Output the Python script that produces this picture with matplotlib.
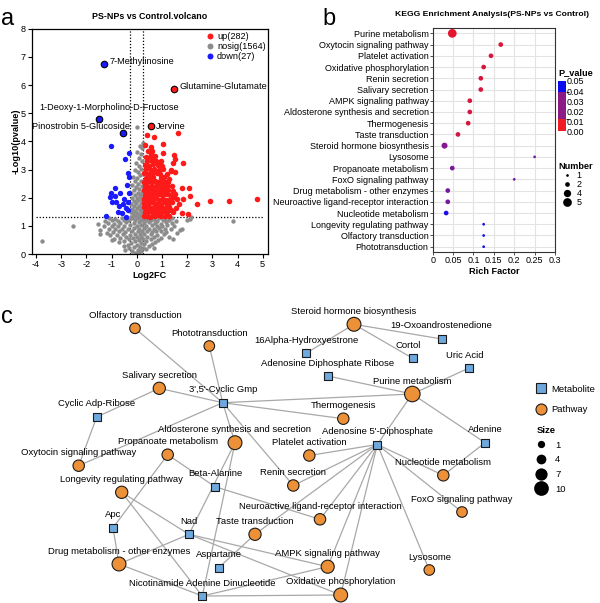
"""Three-panel metabolomics figure: volcano plot, KEGG enrichment bubbles, and
the metabolite-pathway network.

Writes out.png (600x603 px).
"""

import matplotlib.pyplot as plt
import numpy as np
from matplotlib.cm import ScalarMappable
from matplotlib.colors import BoundaryNorm, LinearSegmentedColormap, ListedColormap
from matplotlib.lines import Line2D

plt.rcParams["font.family"] = ["Liberation Sans", "DejaVu Sans"]
plt.rcParams["axes.unicode_minus"] = False

W, H = 600, 603

# ---------------------------------------------------------------- panel a data
# (log2FC, -log10 p); the grey cloud is only a sample.
NOSIG = [
    (-0.08, 0.03), (0.02, 0.02), (0.1, 0.06), (0.18, 0.1), (-0.2, 0.12), (0.05, 0.14),
    (-0.3, 0.2), (0.25, 0.2), (0.38, 0.18), (-0.12, 0.24), (0.12, 0.26),
    (-0.5, 0.3), (-0.35, 0.32), (0.0, 0.33), (0.3, 0.34), (0.48, 0.3), (0.6, 0.36),
    (-0.22, 0.38), (0.18, 0.4), (-0.7, 0.42), (-0.52, 0.45), (-0.08, 0.46), (0.08, 0.48),
    (0.36, 0.47), (0.72, 0.44), (0.86, 0.5), (-0.3, 0.52), (0.25, 0.54), (0.55, 0.52),
    (-0.9, 0.55), (-0.65, 0.58), (-0.42, 0.6), (-0.15, 0.58), (0.02, 0.62), (0.15, 0.6),
    (0.42, 0.62), (0.68, 0.6), (0.98, 0.58), (-1.05, 0.66), (-0.8, 0.68), (-0.55, 0.7),
    (-0.25, 0.68), (-0.05, 0.72), (0.12, 0.7), (0.3, 0.72), (0.55, 0.7), (0.82, 0.68),
    (1.08, 0.7), (1.3, 0.62), (-1.2, 0.76), (-0.95, 0.78), (-0.7, 0.8), (-0.45, 0.78),
    (-0.18, 0.8), (0.05, 0.82), (0.22, 0.8), (0.4, 0.82), (0.62, 0.78), (0.78, 0.8),
    (0.95, 0.82), (1.18, 0.78), (-1.45, 0.86), (-1.1, 0.88), (-0.85, 0.9), (-0.6, 0.88),
    (-0.35, 0.9), (-0.1, 0.92), (0.1, 0.9), (0.3, 0.92), (0.5, 0.88), (0.7, 0.9),
    (0.9, 0.92), (1.12, 0.88), (1.35, 0.9), (1.72, 0.86), (-1.3, 0.98), (-1.0, 1.0),
    (-0.75, 0.98), (-0.5, 1.0), (-0.25, 1.02), (0.0, 1.0), (0.18, 1.02), (0.38, 1.0),
    (0.6, 1.02), (0.8, 0.98), (1.02, 1.0), (1.22, 1.02), (1.46, 0.98), (-1.52, 1.08),
    (-1.15, 1.1), (-0.9, 1.08), (-0.65, 1.1), (-0.42, 1.12), (-0.12, 1.1), (0.08, 1.12),
    (0.28, 1.1), (0.5, 1.12), (0.72, 1.1), (0.95, 1.08), (1.15, 1.12), (1.38, 1.1),
    (-1.25, 1.18), (-0.98, 1.2), (-0.75, 1.18), (-0.52, 1.2), (-0.3, 1.22), (-0.05, 1.2),
    (0.15, 1.22), (0.35, 1.2), (0.58, 1.22), (0.8, 1.18), (1.05, 1.2), (1.28, 1.22),
    (1.55, 1.18), (2.0, 1.2), (-1.1, 1.27), (-0.85, 1.26), (-0.6, 1.28), (-0.38, 1.26),
    (-0.18, 1.28), (0.05, 1.27), (0.25, 1.26), (0.45, 1.28), (0.68, 1.26), (0.9, 1.28),
    (1.12, 1.26), (1.4, 1.27), (2.1, 1.26),
    (-3.77, 0.47), (-2.52, 1.0), (-1.45, 0.7), (-1.0, 0.48), (1.45, 0.55), (1.6, 0.75),
    (1.8, 0.87), (3.84, 1.16), (2.15, 1.3), (-0.45, 0.15), (0.7, 0.2),
    (-0.22, 1.32), (-0.08, 1.35), (0.1, 1.34), (0.22, 1.36), (-0.15, 1.42), (0.02, 1.44),
    (0.18, 1.45), (-0.24, 1.5), (-0.05, 1.52), (0.12, 1.55), (0.24, 1.54), (-0.18, 1.6),
    (0.0, 1.62), (0.2, 1.64), (-0.1, 1.7), (0.08, 1.72), (0.24, 1.7), (-0.22, 1.78),
    (-0.02, 1.8), (0.16, 1.82), (-0.12, 1.88), (0.06, 1.9), (0.22, 1.92), (-0.2, 1.98),
    (0.0, 2.0), (0.18, 2.02), (-0.08, 2.08), (0.12, 2.1), (-0.22, 2.15), (0.04, 2.18),
    (0.22, 2.2), (-0.12, 2.26), (0.1, 2.3), (-0.02, 2.38), (0.2, 2.4), (-0.18, 2.45),
    (0.06, 2.5), (-0.08, 2.58), (0.16, 2.6), (0.0, 2.7), (-0.15, 2.75), (0.12, 2.8),
    (0.04, 2.9), (-0.06, 3.0), (0.18, 3.02), (0.08, 3.12), (-0.02, 3.22), (0.2, 3.3),
    (0.1, 3.42), (0.16, 3.55), (0.02, 3.62), (0.22, 3.75), (0.12, 3.85), (0.26, 3.95),
    (0.0, 4.5),
]
UP = [
    (0.41, 4.24), (0.69, 4.16), (1.63, 4.28), (0.33, 3.88), (1.03, 3.92), (0.57, 3.79),
    (0.56, 3.57), (1.06, 3.59), (1.46, 3.51), (1.51, 3.36), (1.42, 3.22), (0.69, 3.37),
    (0.45, 3.13), (1.83, 3.22), (1.34, 2.93), (1.52, 2.9), (2.08, 2.33), (1.79, 2.35),
    (1.49, 2.03), (1.83, 1.94), (2.12, 2.06), (2.38, 1.77), (2.9, 1.88), (3.66, 1.89),
    (4.76, 1.96), (1.44, 1.48), (1.79, 1.44), (2.02, 1.43), (1.22, 1.77), (0.9, 1.91),
    (0.66, 2.27), (1.12, 2.57), (0.79, 2.86), (0.4, 2.57), (0.93, 3.22),
    (0.3, 1.34), (0.42, 1.36), (0.52, 1.33), (0.63, 1.37), (0.74, 1.35), (0.85, 1.38),
    (0.98, 1.34), (1.12, 1.36), (1.27, 1.35), (0.33, 1.5), (0.46, 1.48), (0.57, 1.52),
    (0.69, 1.49), (0.82, 1.53), (0.92, 1.47), (1.06, 1.51), (1.2, 1.49), (1.34, 1.55),
    (0.28, 1.66), (0.39, 1.63), (0.5, 1.67), (0.62, 1.64), (0.75, 1.68), (0.88, 1.63),
    (1.01, 1.67), (1.15, 1.64), (1.3, 1.66), (1.56, 1.62), (0.3, 1.81), (0.43, 1.79),
    (0.55, 1.83), (0.7, 1.8), (0.84, 1.82), (0.98, 1.78), (1.12, 1.84), (1.29, 1.8),
    (1.41, 1.83), (1.66, 1.78), (0.28, 1.96), (0.4, 1.94), (0.52, 1.98), (0.65, 1.95),
    (0.78, 1.99), (1.05, 1.96), (1.2, 1.93), (1.36, 1.97), (1.6, 1.95), (0.31, 2.11),
    (0.46, 2.09), (0.6, 2.13), (0.73, 2.1), (0.88, 2.12), (1.0, 2.08), (1.18, 2.13),
    (1.31, 2.1), (1.52, 2.12), (0.28, 2.26), (0.41, 2.24), (0.55, 2.28), (0.8, 2.25),
    (0.95, 2.27), (1.1, 2.23), (1.25, 2.27), (1.45, 2.25), (0.32, 2.41), (0.46, 2.39),
    (0.6, 2.43), (0.75, 2.4), (0.9, 2.42), (1.05, 2.38), (1.2, 2.42), (1.38, 2.4),
    (0.3, 2.56), (0.56, 2.55), (0.72, 2.58), (0.86, 2.54), (1.0, 2.57), (1.25, 2.55),
    (0.35, 2.71), (0.5, 2.69), (0.65, 2.73), (0.95, 2.7), (1.1, 2.72), (1.3, 2.68),
    (0.3, 2.86), (0.46, 2.84), (0.6, 2.88), (0.93, 2.85), (1.2, 2.83), (0.38, 3.01),
    (0.55, 2.99), (0.7, 3.03), (0.88, 3.0), (1.06, 3.02), (1.36, 3.0), (0.32, 3.16),
    (0.5, 3.14), (0.65, 3.18), (0.83, 3.15), (1.0, 3.13), (0.4, 3.31), (0.6, 3.29),
    (0.77, 3.32), (0.97, 3.3), (0.36, 3.46), (0.52, 3.45), (0.71, 3.48), (0.45, 3.66),
    (0.62, 3.64),
]
DOWN = [
    (-1.02, 3.83), (-0.29, 3.58), (-0.46, 3.36), (-0.33, 2.86), (-0.29, 2.74),
    (-0.40, 2.45), (-0.86, 2.35), (-1.03, 2.17), (-1.08, 2.03), (-0.87, 2.06),
    (-0.66, 2.17), (-0.29, 2.15), (-0.50, 1.97), (-0.33, 1.83), (-0.99, 1.86),
    (-0.82, 1.86), (-0.69, 1.70), (-0.53, 1.77), (-0.73, 1.48), (-0.60, 1.44),
    (-0.33, 1.56), (-0.44, 1.62), (-1.22, 1.35), (-0.42, 1.32),
]
# labelled metabolites: name, log2FC, -log10 p, regulation, text x, text y, align
LABELLED = [
    ("7-Methylinosine", -1.30, 6.74, "down", -1.09, 6.82, "left"),
    ("Glutamine-Glutamate", 1.46, 5.86, "up", 1.71, 5.96, "left"),
    ("1-Deoxy-1-Morpholino-D-Fructose", -1.50, 4.80, "down", -1.11, 5.19, "center"),
    ("Pinostrobin 5-Glucoside", -0.55, 4.30, "down", -0.27, 4.51, "right"),
    ("Jervine", 0.55, 4.53, "up", 0.75, 4.53, "left"),
]
COUNTS = {"up": 282, "nosig": 1564, "down": 27}
FC_CUT = 0.26
P_CUT = 1.3

# ---------------------------------------------------------------- panel b data
KEGG_TERMS = [
    "Purine metabolism", "Oxytocin signaling pathway", "Platelet activation",
    "Oxidative phosphorylation", "Renin secretion", "Salivary secretion",
    "AMPK signaling pathway", "Aldosterone synthesis and secretion", "Thermogenesis",
    "Taste transduction", "Steroid hormone biosynthesis", "Lysosome",
    "Propanoate metabolism", "FoxO signaling pathway", "Drug metabolism - other enzymes",
    "Neuroactive ligand-receptor interaction", "Nucleotide metabolism",
    "Longevity regulating pathway", "Olfactory transduction", "Phototransduction",
]
RICH_FACTOR = [0.048, 0.167, 0.143, 0.125, 0.118, 0.118, 0.091, 0.091, 0.087, 0.062,
               0.029, 0.25, 0.048, 0.2, 0.037, 0.037, 0.033, 0.125, 0.125, 0.125]
HIT_NUMBER = [5, 2, 2, 2, 2, 2, 2, 2, 2, 2, 3, 1, 2, 1, 2, 2, 2, 1, 1, 1]
P_VALUE = [0.004, 0.006, 0.007, 0.007, 0.007, 0.007, 0.008, 0.008, 0.008, 0.009,
           0.026, 0.03, 0.028, 0.03, 0.029, 0.029, 0.046, 0.048, 0.048, 0.048]

# ---------------------------------------------------------------- panel c data
# layout coordinates (x right, y down) of the network drawing
PATHWAYS = [
    "Olfactory transduction", "Phototransduction", "Salivary secretion",
    "Aldosterone synthesis and secretion", "Propanoate metabolism",
    "Oxytocin signaling pathway", "Longevity regulating pathway", "Renin secretion",
    "Taste transduction", "Drug metabolism - other enzymes",
    "Steroid hormone biosynthesis", "Purine metabolism", "Thermogenesis",
    "Platelet activation", "Nucleotide metabolism", "FoxO signaling pathway",
    "Neuroactive ligand-receptor interaction", "AMPK signaling pathway", "Lysosome",
    "Oxidative phosphorylation",
]
PATH_X = [135, 209.3, 159.3, 235, 167.7, 78.7, 121.7, 293.3, 255, 119,
          354, 412.3, 343.3, 309.3, 443.3, 462, 320, 327.7, 429.3, 340.7]
PATH_Y = [328.3, 346, 388.3, 442.7, 454.7, 465.7, 492.3, 485.5, 534.3, 564,
          324.3, 394, 418.7, 455.5, 475.3, 512, 519.3, 566.7, 570, 595]
PATH_SIZE = [5, 5, 7, 9, 6, 6, 7, 6, 7, 9, 9, 11, 6, 6, 6, 5, 6, 8, 5, 9]

METABOLITES = [
    "3',5'-Cyclic Gmp", "Cyclic Adp-Ribose", "Beta-Alanine", "Apc", "Nad", "Aspartame",
    "Nicotinamide Adenine Dinucleotide", "16Alpha-Hydroxyestrone",
    "Adenosine Diphosphate Ribose", "19-Oxoandrostenedione", "Cortol", "Uric Acid",
    "Adenosine 5'-Diphosphate", "Adenine",
]
MET_X = [222.7, 96.7, 215, 113, 189, 218.7, 202.3, 306, 327.7, 441.7, 412.7, 469,
         377.3, 485]
MET_Y = [402.7, 417, 486.7, 527.7, 534.3, 567.7, 596, 353.3, 376, 339, 358.3, 368,
         444.5, 442.7]

EDGES = [
    ("3',5'-Cyclic Gmp", "Olfactory transduction"),
    ("3',5'-Cyclic Gmp", "Phototransduction"),
    ("3',5'-Cyclic Gmp", "Salivary secretion"),
    ("3',5'-Cyclic Gmp", "Oxytocin signaling pathway"),
    ("3',5'-Cyclic Gmp", "Purine metabolism"),
    ("3',5'-Cyclic Gmp", "Thermogenesis"),
    ("3',5'-Cyclic Gmp", "Aldosterone synthesis and secretion"),
    ("3',5'-Cyclic Gmp", "Renin secretion"),
    ("Cyclic Adp-Ribose", "Salivary secretion"),
    ("Cyclic Adp-Ribose", "Oxytocin signaling pathway"),
    ("Apc", "Propanoate metabolism"),
    ("Apc", "Drug metabolism - other enzymes"),
    ("Beta-Alanine", "Propanoate metabolism"),
    ("Beta-Alanine", "Neuroactive ligand-receptor interaction"),
    ("Nad", "Aldosterone synthesis and secretion"),
    ("Nad", "Longevity regulating pathway"),
    ("Nad", "Drug metabolism - other enzymes"),
    ("Nad", "AMPK signaling pathway"),
    ("Nad", "Oxidative phosphorylation"),
    ("Nicotinamide Adenine Dinucleotide", "Aldosterone synthesis and secretion"),
    ("Nicotinamide Adenine Dinucleotide", "Longevity regulating pathway"),
    ("Nicotinamide Adenine Dinucleotide", "Drug metabolism - other enzymes"),
    ("Nicotinamide Adenine Dinucleotide", "AMPK signaling pathway"),
    ("Nicotinamide Adenine Dinucleotide", "Oxidative phosphorylation"),
    ("Aspartame", "Taste transduction"),
    ("Adenosine 5'-Diphosphate", "Taste transduction"),
    ("Adenosine 5'-Diphosphate", "Platelet activation"),
    ("Adenosine 5'-Diphosphate", "Renin secretion"),
    ("Adenosine 5'-Diphosphate", "Neuroactive ligand-receptor interaction"),
    ("Adenosine 5'-Diphosphate", "AMPK signaling pathway"),
    ("Adenosine 5'-Diphosphate", "Oxidative phosphorylation"),
    ("Adenosine 5'-Diphosphate", "Lysosome"),
    ("Adenosine 5'-Diphosphate", "FoxO signaling pathway"),
    ("Adenosine 5'-Diphosphate", "Nucleotide metabolism"),
    ("Adenosine 5'-Diphosphate", "Purine metabolism"),
    ("Adenosine Diphosphate Ribose", "Purine metabolism"),
    ("Uric Acid", "Purine metabolism"),
    ("Adenine", "Purine metabolism"),
    ("Adenine", "Nucleotide metabolism"),
    ("16Alpha-Hydroxyestrone", "Steroid hormone biosynthesis"),
    ("19-Oxoandrostenedione", "Steroid hormone biosynthesis"),
    ("Cortol", "Steroid hormone biosynthesis"),
]
SIZE_BREAKS = [1, 4, 7, 10]

# ---------------------------------------------------------------- styles
RED, GREY, BLUE = "#ff1a1a", "#8c8c8c", "#1a1aff"
ORANGE, LIGHTBLUE = "#ec9137", "#6fa8dc"
FS_B = 6.5   # enrichment plot text
FS_C = 6.8   # network text
PT = 0.72    # points per pixel at 100 dpi


def px_box(x0, y0, x1, y1):
    """Figure-fraction rectangle from pixel corners (y measured downward)."""
    return [x0 / W, 1 - y1 / H, (x1 - x0) / W, (y1 - y0) / H]


def net_diam(v):
    """Pathway node diameter in pixels from its size value."""
    return 7.3 + (v - 1) * (14.7 - 7.3) / 9


fig = plt.figure(figsize=(W / 100, H / 100), dpi=100)

# ================================================================ panel a
ax = fig.add_axes(px_box(31.7, 28.7, 268, 254))
gx, gy = zip(*NOSIG)
ax.scatter(gx, gy, s=10, c=GREY, lw=0, zorder=2)
ux, uy = zip(*UP)
ax.scatter(ux, uy, s=16, c=RED, lw=0, zorder=3)
dx, dy = zip(*DOWN)
ax.scatter(dx, dy, s=15, c=BLUE, lw=0, zorder=3)
for name, x, y, reg, tx, ty, ha in LABELLED:
    ax.scatter([x], [y], s=22, c=RED if reg == "up" else BLUE, edgecolors="black",
               linewidths=0.8, zorder=4)
    ax.text(tx, ty, name, ha=ha, va="center", fontsize=6.6, zorder=5)

ax.axvline(-FC_CUT, color="black", lw=0.9, ls=(0, (1, 1.5)), zorder=1)
ax.axvline(FC_CUT, color="black", lw=0.9, ls=(0, (1, 1.5)), zorder=1)
ax.hlines(P_CUT, -4.0, 5.0, color="black", lw=0.9, ls=(0, (1, 1.5)), zorder=1)

ax.set_xlim(-4.17, 5.21)
ax.set_ylim(0, 8)
ax.set_xticks(range(-4, 6))
ax.set_yticks(range(0, 9))
ax.tick_params(labelsize=6.6, length=3, width=0.8, pad=1.5)
for sp in ax.spines.values():
    sp.set_linewidth(0.9)
ax.set_xlabel("Log2FC", fontsize=6.6, fontweight="bold", labelpad=1)
ax.set_ylabel("-Log10(pvalue)", fontsize=6.6, fontweight="bold", labelpad=0)
ax.set_title("PS-NPs vs Control.volcano", fontsize=6.4, fontweight="bold", pad=7)

handles = [Line2D([], [], ls="", marker="o", ms=4.3, mec="none", mfc=c)
           for c in (RED, GREY, BLUE)]
labels = [f"{k}({v})" for k, v in COUNTS.items()]
ax.legend(handles, labels, loc="upper left", bbox_to_anchor=(205 / W, 1 - 32 / H),
          bbox_transform=fig.transFigure, frameon=False, fontsize=6.6,
          handlelength=1, handletextpad=0.3, borderpad=0, labelspacing=0.1,
          borderaxespad=0)

# ================================================================ panel b
bx = fig.add_axes(px_box(432.7, 28.3, 555, 252))
pcmap = LinearSegmentedColormap.from_list("pv", ["#f5141e", "#8b1a8b", "#0a0af5"])
rows = np.arange(len(KEGG_TERMS))
diam = np.interp(HIT_NUMBER, [1, 2, 4, 5], [2.7, 4.7, 7.3, 8.7])
bx.scatter(RICH_FACTOR, rows, s=(diam * PT) ** 2,
           c=pcmap(np.array(P_VALUE) / 0.05), lw=0, zorder=3)
bx.set_xlim(0, 0.3)
bx.set_ylim(len(KEGG_TERMS) - 0.53, -0.45)
bx.set_xticks([0, 0.05, 0.1, 0.15, 0.2, 0.25, 0.3])
bx.set_xticklabels(["0", "0.05", "0.1", "0.15", "0.2", "0.25", "0.3"])
bx.set_yticks(rows)
bx.set_yticklabels(KEGG_TERMS)
bx.grid(True, color="#e3e3e3", lw=0.8, zorder=0)
bx.set_axisbelow(True)
bx.tick_params(labelsize=FS_B, length=2, width=0.6, color="#333333", pad=1)
for sp in bx.spines.values():
    sp.set_color("#333333")
    sp.set_linewidth(0.8)
bx.set_xlabel("Rich Factor", fontsize=6.6, fontweight="bold", labelpad=1)
fig.text(492 / W, 1 - 15 / H, "KEGG Enrichment Analysis(PS-NPs vs Control)",
         ha="center", va="center", fontsize=6.1, fontweight="bold")

# P_value colour bar
cax = fig.add_axes(px_box(558.3, 81, 565.7, 131.5))
bands = ListedColormap(["#f01c24", "#8e1a86", "#0b0bf0"])
bnorm = BoundaryNorm([0, 0.012, 0.039, 0.05], bands.N)
cb = fig.colorbar(ScalarMappable(norm=bnorm, cmap=bands), cax=cax,
                  spacing="proportional", ticks=[0, 0.01, 0.02, 0.03, 0.04, 0.05])
cb.ax.set_yticklabels([f"{t:.2f}" for t in [0, 0.01, 0.02, 0.03, 0.04, 0.05]])
cb.outline.set_visible(False)
cb.ax.tick_params(labelsize=FS_B, length=0, pad=1)
fig.text(558 / W, 1 - 72.7 / H, "P_value", fontsize=6.6, fontweight="bold",
         va="center")

nums = [1, 2, 4, 5]
nh = [Line2D([], [], ls="", marker="o", mfc="black", mec="none",
             ms=np.interp(n, [1, 2, 4, 5], [2.7, 4.7, 7.3, 8.7]) * PT) for n in nums]
fig.legend(nh, [str(n) for n in nums], title="Number", loc="upper left",
           bbox_to_anchor=(558 / W, 1 - 162 / H), frameon=False, fontsize=FS_B,
           title_fontproperties={"weight": "bold", "size": 6.6},
           handlelength=2, handletextpad=0.05, borderpad=0, labelspacing=0.0,
           alignment="left", borderaxespad=0)

# ================================================================ panel c
cx = fig.add_axes(px_box(0, 290, W, H))
cx.set_xlim(0, W)
cx.set_ylim(H, 290)
cx.axis("off")

pos = {n: (x, y) for n, x, y in zip(PATHWAYS, PATH_X, PATH_Y)}
pos.update({n: (x, y) for n, x, y in zip(METABOLITES, MET_X, MET_Y)})
for a, b in EDGES:
    (x0, y0), (x1, y1) = pos[a], pos[b]
    cx.plot([x0, x1], [y0, y1], color="#a8a8a8", lw=0.9, zorder=1)

cx.scatter(PATH_X, PATH_Y, s=[(net_diam(v) * PT) ** 2 for v in PATH_SIZE],
           c=ORANGE, edgecolors="#1a1a1a", linewidths=0.8, zorder=3)
cx.scatter(MET_X, MET_Y, s=(8.3 * PT) ** 2, marker="s", c=LIGHTBLUE,
           edgecolors="#1a1a1a", linewidths=0.8, zorder=3)

LABEL_DX = {"Cortol": -4.4, "Uric Acid": -4.3, "Aldosterone synthesis and secretion": -1}
for name, (x, y) in pos.items():
    cx.annotate(name, (x, y), xytext=(LABEL_DX.get(name, 0) * PT, 13 * PT),
                textcoords="offset points", ha="center", va="center",
                fontsize=FS_C, zorder=4)

kind_h = [Line2D([], [], ls="", marker="s", ms=10 * PT, mfc=LIGHTBLUE, mec="#1a1a1a",
                 mew=0.8),
          Line2D([], [], ls="", marker="o", ms=11 * PT, mfc=ORANGE, mec="#1a1a1a",
                 mew=0.8)]
fig.legend(kind_h, ["Metabolite", "Pathway"], loc="upper left",
           bbox_to_anchor=(535.7 / W, 1 - 384.5 / H), frameon=False, fontsize=FS_C,
           handlelength=1.1, handletextpad=0.55, borderpad=0, labelspacing=1.25,
           borderaxespad=0)
size_h = [Line2D([], [], ls="", marker="o", mfc="black", mec="none",
                 ms=net_diam(v) * PT) for v in SIZE_BREAKS]
fig.legend(size_h, [str(v) for v in SIZE_BREAKS], title="Size", loc="upper left",
           bbox_to_anchor=(536.7 / W, 1 - 426 / H), frameon=False, fontsize=FS_C,
           title_fontproperties={"weight": "bold", "size": 6.8},
           handlelength=0.95, handletextpad=1.0, borderpad=0, labelspacing=0.6,
           alignment="left", borderaxespad=0)

# panel letters
fig.text(1 / W, 1 - 25 / H, "a", fontsize=17, va="baseline")
fig.text(322 / W, 1 - 25 / H, "b", fontsize=17, va="baseline")
fig.text(1 / W, 1 - 323 / H, "c", fontsize=17, va="baseline")

fig.savefig("out.png", dpi=100)
